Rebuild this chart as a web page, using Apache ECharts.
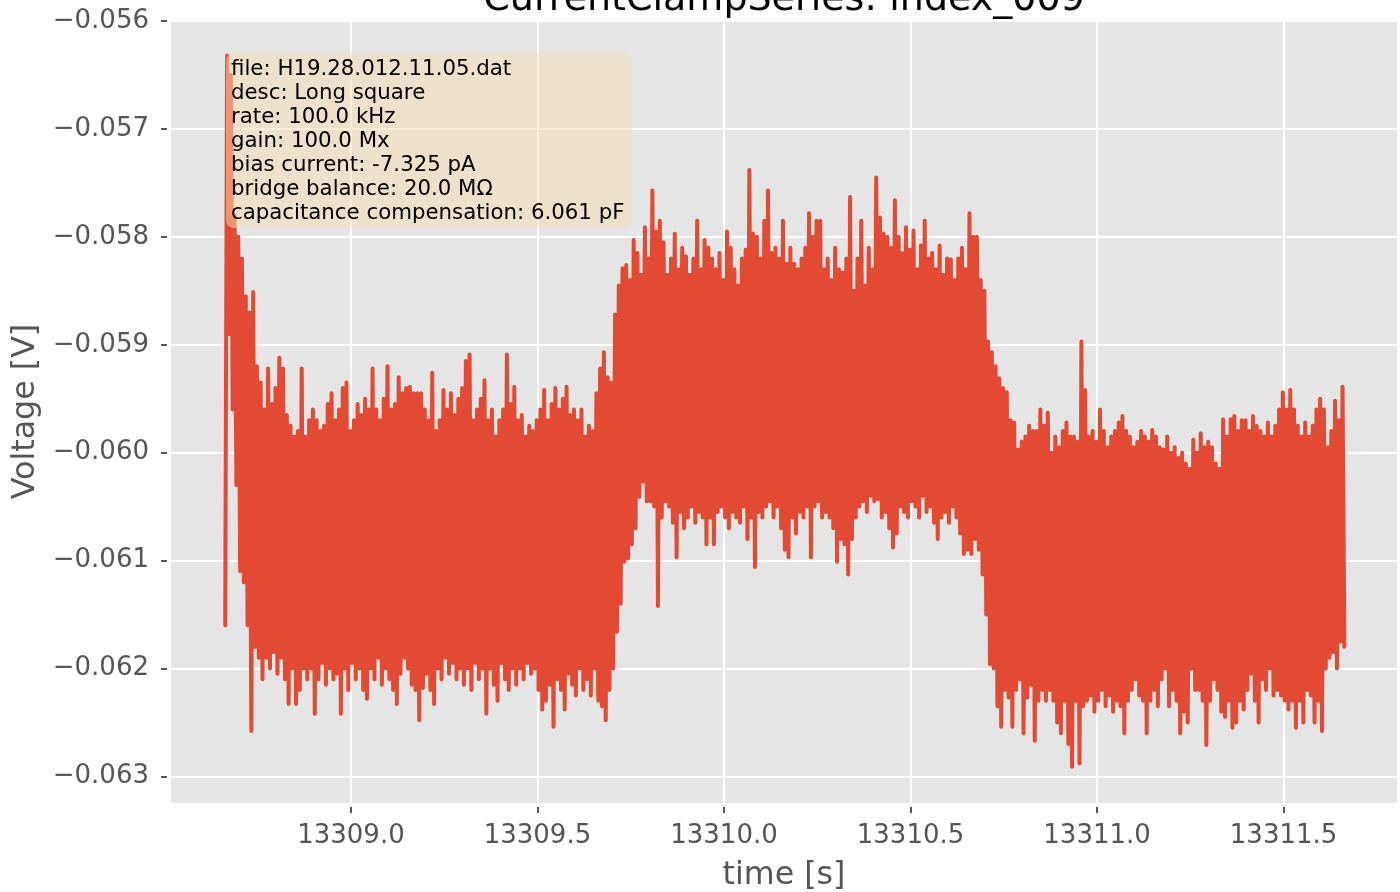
<!DOCTYPE html>
<html>
<head>
<meta charset="utf-8">
<script src="https://cdn.jsdelivr.net/npm/echarts@6/dist/echarts.min.js"></script>
<style>
html, body { margin: 0; padding: 0; background: #ffffff; }
#chart { width: 1400px; height: 892px; }
</style>
</head>
<body>
<div id="chart"></div>
<script>
// ---- text ----
const titleText = 'CurrentClampSeries: index_009';
const xAxisName = 'time [s]';
const yAxisName = 'Voltage [V]';
const infoLines = [
  'file: H19.28.012.11.05.dat',
  'desc: Long square',
  'rate: 100.0 kHz',
  'gain: 100.0 Mx',
  'bias current: -7.325 pA',
  'bridge balance: 20.0 M\u03A9',
  'capacitance compensation: 6.061 pF'
];

// ---- ticks ----
const xTicks = [13309.0, 13309.5, 13310.0, 13310.5, 13311.0, 13311.5];
const yTicks = [-0.063, -0.062, -0.061, -0.060, -0.059, -0.058, -0.057, -0.056];

// ---- sampling grid of the (decimated) trace ----
const startTime = 13308.663;     // s
const sampleInterval = 0.005;    // s

// ---- trace values (mV), per-column extremes ----
const voltage_mV = [
  -61.60, -56.32, -58.9, -56.5, -59.6, -57.8, -60.3, -58.0, -61.1, -58.2,
  -61.2, -58.55, -61.6, -58.7, -62.58, -58.51, -61.8, -59.2, -61.9, -59.35,
  -62.1, -59.6, -61.9, -59.22, -62.0, -59.55, -61.85, -59.4, -62.05, -59.12,
  -61.9, -59.22, -62.1, -59.65, -62.33, -59.75, -62.0, -59.85, -62.33, -59.8,
  -62.2, -59.22, -62.0, -59.85, -62.1, -59.7, -62.0, -59.6, -62.42, -59.7,
  -62.1, -59.8, -61.95, -59.75, -62.15, -59.55, -62.0, -59.45, -62.1, -59.7,
  -62.05, -59.6, -62.42, -59.4, -62.0, -59.35, -62.2, -59.8, -61.95, -59.7,
  -62.1, -59.55, -62.0, -59.65, -62.2, -59.5, -62.28, -59.6, -62.0, -59.22,
  -62.1, -59.6, -61.9, -59.7, -62.15, -59.5, -62.0, -59.2, -62.1, -59.6,
  -62.2, -59.55, -62.33, -59.3, -62.05, -59.45, -61.9, -59.4, -62.0, -59.39,
  -62.15, -59.45, -62.2, -59.45, -62.48, -59.45, -62.18, -59.6, -62.05, -59.7,
  -62.2, -59.26, -62.33, -59.8, -62.0, -59.7, -62.1, -59.42, -61.9, -59.6,
  -62.05, -59.45, -61.95, -59.65, -62.1, -59.5, -62.0, -59.4, -62.15, -59.15,
  -62.0, -59.09, -62.2, -59.7, -61.95, -59.6, -62.1, -59.5, -62.0, -59.33,
  -62.42, -59.7, -62.0, -59.6, -62.15, -59.85, -62.3, -59.7, -61.95, -59.6,
  -62.1, -59.09, -62.2, -59.55, -62.0, -59.39, -62.15, -59.7, -62.0, -59.65,
  -62.1, -59.85, -61.95, -59.75, -62.05, -59.8, -62.0, -59.7, -62.2, -59.6,
  -62.38, -59.42, -62.3, -59.7, -62.15, -59.55, -62.54, -59.4, -62.1, -59.6,
  -62.2, -59.5, -62.38, -59.39, -62.05, -59.65, -62.15, -59.6, -62.25, -59.7,
  -62.0, -59.6, -62.2, -59.85, -62.1, -59.75, -62.25, -59.8, -62.0, -59.45,
  -62.3, -59.22, -62.35, -59.07, -62.48, -59.3, -62.2, -59.35, -62.0, -58.72,
  -61.66, -58.45, -61.4, -58.29, -61.01, -58.26, -60.98, -58.4, -60.85, -58.03,
  -60.7, -58.15, -60.41, -58.35, -60.27, -57.91, -60.45, -58.2, -60.45, -57.57,
  -60.5, -57.95, -61.42, -57.85, -60.6, -58.05, -60.45, -58.35, -60.5, -58.2,
  -60.65, -57.97, -60.97, -58.3, -60.55, -58.1, -60.7, -58.18, -60.6, -58.35,
  -60.5, -58.2, -60.65, -57.85, -60.55, -58.3, -60.6, -58.03, -60.85, -58.1,
  -60.6, -58.2, -60.85, -58.3, -60.55, -58.15, -60.5, -58.4, -60.6, -57.95,
  -60.7, -58.1, -60.55, -58.3, -60.6, -58.45, -60.65, -58.2, -60.5, -58.12,
  -60.8, -57.38, -60.6, -57.97, -61.06, -58.0, -60.55, -58.2, -60.6, -57.85,
  -60.5, -57.57, -60.45, -58.15, -60.6, -58.1, -60.5, -58.2, -60.7, -57.85,
  -60.9, -58.25, -60.97, -58.1, -60.6, -58.25, -60.75, -58.3, -60.55, -58.2,
  -60.6, -58.1, -60.5, -57.78, -60.97, -58.0, -60.5, -57.85, -60.45, -57.85,
  -60.6, -58.3, -60.55, -58.2, -60.6, -58.4, -60.7, -58.1, -61.01, -58.3,
  -60.8, -58.33, -60.85, -58.2, -61.13, -57.63, -60.8, -58.5, -60.6, -58.2,
  -60.5, -57.85, -60.45, -58.45, -60.55, -58.1, -60.4, -58.3, -60.45, -57.45,
  -60.43, -57.82, -60.6, -57.97, -60.55, -58.0, -60.7, -58.1, -60.88, -57.66,
  -60.75, -58.0, -60.5, -58.15, -60.55, -57.91, -60.6, -58.12, -60.45, -57.94,
  -60.5, -58.3, -60.6, -58.08, -60.4, -57.85, -60.55, -58.2, -60.5, -58.15,
  -60.65, -58.3, -60.8, -58.08, -60.6, -58.35, -60.55, -58.2, -60.65, -58.21,
  -60.5, -58.4, -60.6, -58.2, -60.75, -58.1, -60.94, -58.3, -60.9, -57.78,
  -60.94, -58.0, -60.8, -58.0, -60.9, -58.4, -61.13, -58.5, -61.5, -58.97,
  -61.96, -59.07, -62.0, -59.2, -62.35, -59.31, -62.54, -59.4, -62.2, -59.44,
  -62.27, -59.7, -62.54, -59.72, -62.2, -59.97, -62.1, -59.9, -62.6, -59.85,
  -62.27, -59.75, -62.15, -59.8, -62.67, -59.8, -62.3, -59.6, -62.2, -59.75,
  -62.3, -59.63, -62.2, -60.0, -62.3, -59.85, -62.5, -59.95, -62.6, -59.8,
  -62.3, -59.72, -62.7, -59.85, -62.91, -59.85, -62.3, -59.9, -62.88, -58.97,
  -62.35, -59.42, -62.3, -59.85, -62.25, -59.8, -62.4, -59.9, -62.3, -59.6,
  -62.2, -59.8, -62.35, -59.95, -62.25, -59.85, -62.4, -59.8, -62.3, -59.72,
  -62.35, -59.66, -62.6, -59.8, -62.3, -59.85, -62.2, -59.95, -62.1, -59.9,
  -62.25, -59.8, -62.3, -59.85, -62.6, -59.9, -62.3, -59.79, -62.2, -59.85,
  -62.35, -59.95, -62.1, -59.97, -62.0, -59.85, -62.35, -60.0, -62.2, -59.95,
  -62.3, -60.05, -62.6, -60.0, -62.4, -60.1, -62.5, -60.15, -62.0, -59.88,
  -62.2, -60.0, -62.2, -59.82, -62.3, -59.95, -62.71, -59.9, -62.3, -59.95,
  -62.1, -60.1, -62.2, -60.15, -62.4, -59.69, -62.45, -59.85, -62.3, -59.69,
  -62.55, -59.66, -62.5, -59.8, -62.3, -59.7, -62.38, -59.7, -62.2, -59.8,
  -62.05, -59.66, -62.3, -59.75, -62.5, -59.8, -62.1, -59.85, -62.2, -59.72,
  -62.0, -59.85, -62.25, -59.75, -62.2, -59.6, -62.25, -59.44, -62.3, -59.6,
  -62.38, -59.42, -62.3, -59.6, -62.55, -59.75, -62.3, -59.85, -62.5, -59.72,
  -62.2, -59.85, -62.25, -59.75, -62.5, -59.6, -62.3, -59.5, -62.58, -59.6,
  -62.0, -59.95, -61.9, -59.8, -61.85, -59.52, -62.0, -59.7, -61.75, -59.39,
  -61.8
];

// ---- build series data (time in s, voltage in V) ----
const traceData = voltage_mV.map((mv, i) => [startTime + i * sampleInterval, mv / 1000]);

const FONT = '"DejaVu Sans", "Liberation Sans", sans-serif';
const TICK_COLOR = '#555555';

const chart = echarts.init(document.getElementById('chart'), null, { renderer: 'canvas' });
chart.setOption({
  animation: false,
  backgroundColor: '#ffffff',
  grid: {
    left: 171, right: 3, top: 20, bottom: 89,
    show: true, backgroundColor: '#E5E5E5', borderWidth: 0,
    containLabel: false,
    outerBoundsMode: 'none'
  },
  xAxis: {
    type: 'value',
    min: 13308.5177, max: 13311.804,
    offset: 4,
    axisLine: { show: false },
    axisTick: { show: true, length: 6, customValues: xTicks, lineStyle: { color: TICK_COLOR, width: 2 } },
    axisLabel: {
      customValues: xTicks,
      formatter: v => Number(v).toFixed(1),
      color: TICK_COLOR, fontSize: 26, fontFamily: FONT, margin: 16
    },
    splitLine: { show: true, lineStyle: { color: '#ffffff', width: 2 } },
    name: xAxisName, nameLocation: 'middle', nameGap: 53,
    nameTextStyle: { color: TICK_COLOR, fontSize: 31.7, fontFamily: FONT }
  },
  yAxis: {
    type: 'value',
    min: -0.063247, max: -0.05599,
    offset: 4,
    axisLine: { show: false },
    axisTick: { show: true, length: 6, customValues: yTicks, lineStyle: { color: TICK_COLOR, width: 2 } },
    axisLabel: {
      customValues: yTicks,
      formatter: v => Number(v).toFixed(3).replace('-', '\u2212'),
      color: TICK_COLOR, fontSize: 26, fontFamily: FONT, margin: 18
    },
    splitLine: { show: true, lineStyle: { color: '#ffffff', width: 2 } },
    name: yAxisName, nameLocation: 'middle', nameGap: 125, nameRotate: 90,
    nameTextStyle: { color: TICK_COLOR, fontSize: 31.7, fontFamily: FONT }
  },
  series: [{
    type: 'line',
    data: traceData,
    showSymbol: false,
    symbol: 'none',
    sampling: 'none',
    silent: true,
    z: 2,
    lineStyle: { color: '#E24A33', width: 4, join: 'round', cap: 'round' }
  }],
  graphic: [
    {
      type: 'rect', z: 100,
      shape: { x: 226, y: 53, width: 406, height: 175, r: 8 },
      style: { fill: 'rgba(245,222,179,0.5)' }
    },
    {
      type: 'text', z: 101,
      style: {
        x: 231, y: 57,
        text: infoLines.join('\n'),
        fill: '#000000',
        font: '21.3px ' + FONT,
        lineHeight: 24,
        textAlign: 'left', align: 'left',
        textVerticalAlign: 'top', verticalAlign: 'top'
      }
    },
    {
      type: 'text', z: 101,
      style: {
        x: 784, y: 0,
        text: titleText,
        fill: '#000000',
        font: '38px ' + FONT,
        textAlign: 'center', align: 'center',
        textVerticalAlign: 'middle', verticalAlign: 'middle'
      }
    }
  ]
});
</script>
</body>
</html>
